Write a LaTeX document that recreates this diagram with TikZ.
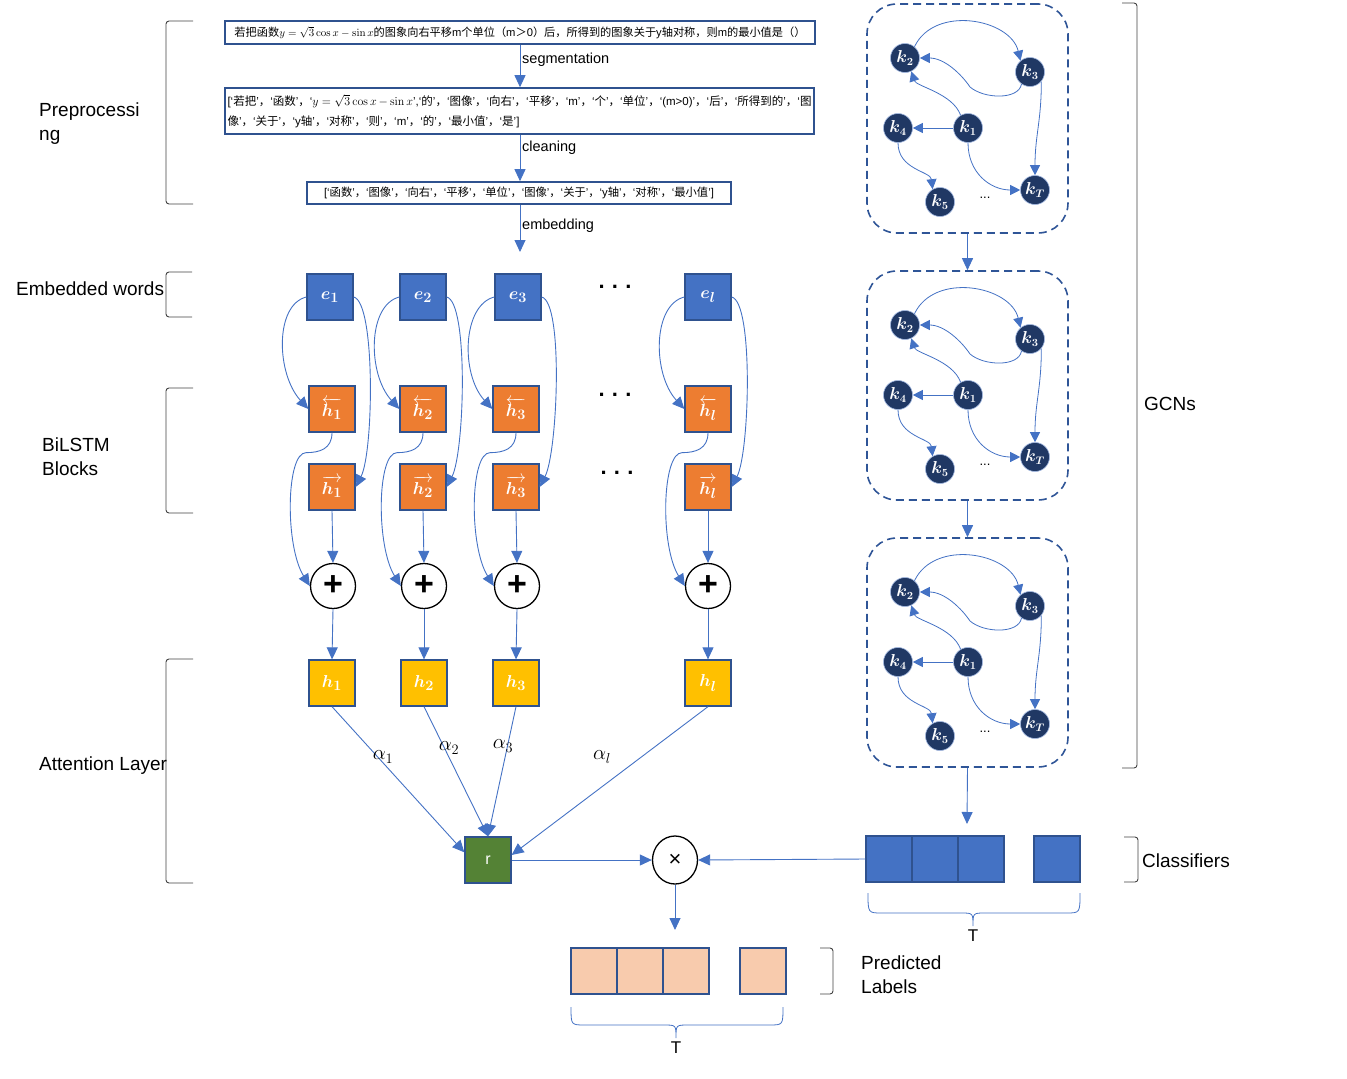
\documentclass[tikz,border=0pt]{standalone}
\usepackage[no-math]{fontspec}
\usepackage{amsmath,bm}
\setmainfont{Liberation Sans}
\newfontfamily\cjk{Noto Sans CJK SC}
\newcommand\zh[1]{{\cjk #1}}
\usetikzlibrary{arrows.meta,shapes.geometric}
\definecolor{lblue}{HTML}{4472C4}
\definecolor{bord}{HTML}{2F528F}
\definecolor{navy}{HTML}{203864}
\definecolor{dashc}{HTML}{2F5597}
\definecolor{orng}{HTML}{ED7D31}
\definecolor{yel}{HTML}{FFC000}
\definecolor{grn}{HTML}{548235}
\definecolor{peach}{HTML}{F8CBAD}
\begin{document}
\begin{tikzpicture}[x=1pt,y=-1pt,
  conn/.style={draw=lblue, line width=0.9pt, -{Triangle[length=12pt,width=11pt]}},
  sq/.style={draw=bord, line width=1.3pt, minimum width=46pt, minimum height=46pt, inner sep=0pt, text=white, font=\fontsize{19}{19}\selectfont},
  ebox/.style={sq, fill=lblue},
  obox/.style={sq, fill=orng},
  ybox/.style={sq, fill=yel},
  rbox/.style={sq, fill=grn},
  pbox/.style={sq, fill=peach},
  cbox/.style={sq, fill=lblue},
  pluscirc/.style={circle, draw=black, line width=1.3pt, fill=white, minimum size=45pt, inner sep=0pt, font=\fontsize{34}{34}\selectfont\bfseries},
  mulcirc/.style={ellipse, draw=black, line width=1.3pt, fill=white, minimum width=45pt, minimum height=48pt, inner sep=0pt, font=\fontsize{22}{22}\selectfont},
  knode/.style={circle, fill=navy, draw=lblue!50, line width=0.6pt, minimum size=29pt, inner sep=0pt, text=white, font=\fontsize{16}{16}\selectfont},
  gedge/.style={draw=lblue, line width=0.8pt, -{Triangle[length=10pt,width=10pt]}},
  gcnbox/.style={draw=dashc, line width=1.6pt, dash pattern=on 8pt off 5pt, rounded corners=30pt, minimum width=201pt, minimum height=229pt, inner sep=0pt},
  brk/.style={draw=black!75, line width=0.9pt, rounded corners=3pt},
  brc/.style={draw=lblue, line width=0.8pt},
  lab/.style={font=\fontsize{19}{24}\selectfont, anchor=west, align=left, inner sep=0pt},
  slab/.style={font=\fontsize{14.5}{16}\selectfont, anchor=west, inner sep=0pt},
  tbox/.style={draw=bord, line width=1.6pt, inner sep=0pt, fill=white},
  dotsn/.style={font=\fontsize{22}{22}\selectfont\bfseries, inner sep=0pt},
  alab/.style={font=\fontsize{20}{20}\selectfont, inner sep=0pt}
]
\useasboundingbox (0,0) rectangle (1347,1079);

% ---------- preprocessing ----------
\node[tbox, minimum width=590pt, minimum height=23pt, font=\fontsize{11.2}{13}\selectfont] (s1) at (520,32.5)
  {\zh{若把函数}$y=\sqrt{3}\cos x-\sin x$\zh{的图象向右平移}m\zh{个单位（}m\zh{＞}0\zh{）后，所得到的图象关于}y\zh{轴对称，则}m\zh{的最小值是（）}};
\node[tbox, minimum width=589pt, minimum height=46pt, text width=584pt, align=left, font=\fontsize{11.5}{20}\selectfont] (s2) at (519.5,111)
  {[‘\zh{若把}’\zh{，}‘\zh{函数}’\zh{，}‘$y=\sqrt{3}\cos x-\sin x$’,‘\zh{的}’\zh{，}‘\zh{图像}’\zh{，}‘\zh{向右}’\zh{，}‘\zh{平移}’\zh{，}‘m’\zh{，}‘\zh{个}’\zh{，}‘\zh{单位}’\zh{，}‘(m>0)’\zh{，}‘\zh{后}’\zh{，}‘\zh{所得到的}’\zh{，}‘\zh{图}\\\zh{像}’\zh{，}‘\zh{关于}’\zh{，}‘y\zh{轴}’\zh{，}‘\zh{对称}’\zh{，}‘\zh{则}’\zh{，}‘m’\zh{，}‘\zh{的}’\zh{，}‘\zh{最小值}’\zh{，}‘\zh{是}’]};
\node[tbox, minimum width=424pt, minimum height=22pt, font=\fontsize{11.3}{12}\selectfont] (s3) at (519,193)
  {[‘\zh{函数}’\zh{，}‘\zh{图像}’\zh{，}‘\zh{向右}’\zh{，}‘\zh{平移}’\zh{，}‘\zh{单位}’\zh{，}‘\zh{图像}’\zh{，}‘\zh{关于}’\zh{，}‘y\zh{轴}’\zh{，}‘\zh{对称}’\zh{，}‘\zh{最小值}’]};
\coordinate (emb) at (520,252);
\draw[conn] (s1.south -| emb) -- (s2.north -| emb);
\draw[conn] (s2.south -| emb) -- (s3.north -| emb);
\draw[conn] (s3.south -| emb) -- (emb);
\node[slab] (lseg) at (522,60) {segmentation};
\node[slab] (lcln) at (522,148) {cleaning};
\node[slab] (lemb) at (522,226) {embedding};

% ---------- BiLSTM columns ----------
\foreach \n/\xe/\xh/\xp/\xy in {1/330/332/333/332, 2/423/423/424/424, 3/518/516/517/516, l/708/708/708/708} {
  \node[ebox] (e\n) at (\xe,297) {$\bm{e_{\n}}$};
  \node[obox] (hb\n) at (\xh,409) {$\overleftarrow{\bm{h}_{\bm{\n}}}$};
  \node[obox] (hf\n) at (\xh,487) {$\overrightarrow{\bm{h}_{\bm{\n}}}$};
  \node[pluscirc] (p\n) at (\xp,586) {+};
  \node[ybox] (y\n) at (\xy,683) {$\bm{h}_{\bm{\n}}$};
  \draw[conn] (e\n.west) .. controls +(-32,8) and +(-32,-35) .. (hb\n.west);
  \draw[conn] (e\n.east) .. controls +(22,5) and +(18,-35) .. (hf\n.east);
  \draw[conn] (hb\n.south) .. controls +(0,16) and +(14,0) .. ([shift={(-26,20)}]hb\n.south) .. controls +(-20,0) and +(-25,-40) .. (p\n.west);
  \draw[conn] (hf\n.south) -- (p\n.north);
  \draw[conn] (p\n.south) -- (y\n.north);
}
\node[dotsn] (d1) at (615,287) {.\,\,.\,\,.};
\node[dotsn] (d2) at (615,395) {.\,\,.\,\,.};
\node[dotsn] (d3) at (617,473) {.\,\,.\,\,.};

% ---------- attention ----------
\node[rbox] (r) at (488,860) {\fontsize{16}{16}\selectfont r};
\draw[conn] (y1.south) -- (r.162);
\draw[conn] (y2.south) -- (r.north);
\draw[conn] (y3.south) -- (r.north);
\draw[conn] (yl.south) -- (r.12);
\node[alab] (a1) at (383,757) {$\alpha_1$};
\node[alab] (a2) at (449,748) {$\alpha_2$};
\node[alab] (a3) at (503,746) {$\alpha_3$};
\node[alab] (al) at (602,757) {$\alpha_l$};

\node[mulcirc] (mul) at (675,860) {×};
\draw[conn] (r.east) -- (mul.west);

% ---------- classifiers ----------
\node[cbox] (c1) at (889,859) {};
\node[cbox] (c2) at (935,859) {};
\node[cbox] (c3) at (981,859) {};
\node[cbox] (c4) at (1057,859) {};
\draw[conn] (c1.west) -- (mul.east);

% ---------- predicted ----------
\node[pbox] (q1) at (594,971) {};
\node[pbox] (q2) at (640,971) {};
\node[pbox] (q3) at (686,971) {};
\node[pbox] (q4) at (763,971) {};
\coordinate (qtip) at (675,930);
\draw[conn] (mul.south) -- (qtip);

% ---------- GCNs ----------
\foreach \g/\o in {1/0, 2/267, 3/534} {
  \node[gcnbox] (gb\g) at (967.5,{118.5+\o}) {};
  \node[knode] (k2-\g) at (905,{58+\o}) {$\bm{k_2}$};
  \node[knode] (k3-\g) at (1030,{72+\o}) {$\bm{k_3}$};
  \node[knode] (k4-\g) at (898,{128+\o}) {$\bm{k_4}$};
  \node[knode] (k1-\g) at (968,{128+\o}) {$\bm{k_1}$};
  \node[knode] (k5-\g) at (940,{202+\o}) {$\bm{k_5}$};
  \node[knode] (kT-\g) at (1035,{190+\o}) {$\bm{k_T}$};
  \node[font=\fontsize{13}{13}\selectfont, inner sep=0pt] (kd-\g) at (985,{198+\o}) {...};
  \draw[gedge] (k2-\g.50) .. controls +(20,-42) and +(-10,-42) .. (k3-\g.130);
  \draw[gedge] (k3-\g.235) .. controls +(-3,16) and +(14,12) .. (970,{87+\o}) .. controls +(-8,-12) and +(25,0) .. (k2-\g.0);
  \draw[gedge] (k1-\g.120) .. controls +(-8,-22) and +(5,15) .. (k2-\g.295);
  \draw[gedge] (k1-\g.west) -- (k4-\g.east);
  \draw[gedge] (k1-\g.south) .. controls +(0,30) and +(-30,0) .. (kT-\g.west);
  \draw[gedge] (k3-\g.-40) .. controls +(0,40) and +(0,-40) .. (kT-\g.north);
  \draw[gedge] (k4-\g.south) .. controls +(0,27) and +(-2,-18) .. (k5-\g.120);
}
\draw[conn] (gb1.south) -- (gb2.north);
\draw[conn] (gb2.south) -- (gb3.north);
\coordinate (ctip) at (967,824);
\draw[conn] (gb3.south) -- (ctip);

% ---------- brackets and labels ----------
\draw[brk] (193,21) -- (166,21) -- (166,204) -- (193,204);
\draw[brk] (192,272) -- (166,272) -- (166,317) -- (192,317);
\draw[brk] (193,388) -- (166,388) -- (166,513) -- (193,513);
\draw[brk] (193,659) -- (166,659) -- (166,883) -- (193,883);
\draw[brk] (1122,3) -- (1137,3) -- (1137,768) -- (1122,768);
\draw[brk] (1124,837) -- (1138,837) -- (1138,882) -- (1124,882);
\draw[brk] (820,948) -- (833,948) -- (833,994) -- (820,994);

\draw[brc] (868,893) .. controls (868,913) .. (882,913) -- (961,913) .. controls (973,913) .. (973,926) .. controls (973,913) .. (985,913) -- (1066,913) .. controls (1080,913) .. (1080,893);
\draw[brc] (571,1007) .. controls (571,1025) .. (585,1025) -- (664,1025) .. controls (676,1025) .. (676,1038) .. controls (676,1025) .. (688,1025) -- (769,1025) .. controls (783,1025) .. (783,1007);

\node[lab] (tpre) at (39,124) {Preprocessi\\ng};
\node[lab] (temb) at (16,289) {Embedded words};
\node[lab] (tbil) at (42,457) {BiLSTM\\Blocks};
\node[lab] (tatt) at (39,766) {Attention Layer};
\node[lab] (tgcn) at (1144,404) {GCNs};
\node[lab] (tcls) at (1142,861) {Classifiers};
\node[lab] (tprd) at (861,975) {Predicted\\Labels};
\node[font=\fontsize{17}{17}\selectfont, inner sep=0pt] (tT1) at (973,936) {T};
\node[font=\fontsize{17}{17}\selectfont, inner sep=0pt] (tT2) at (676,1048) {T};
\end{tikzpicture}
\end{document}
